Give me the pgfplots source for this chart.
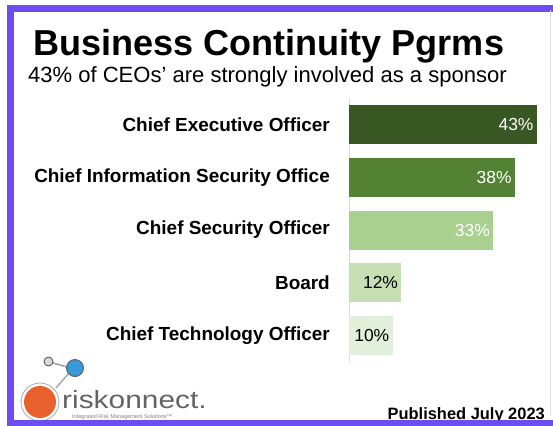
\documentclass[border=0pt]{standalone}
\usepackage{pgfplots}
\pgfplotsset{compat=1.18}
\usepackage{graphicx}
\usepackage{fontspec}
\setmainfont{Liberation Sans}
\definecolor{bdr}{RGB}{108,77,240}
\definecolor{cA}{RGB}{56,87,35}
\definecolor{cB}{RGB}{84,130,53}
\definecolor{cC}{RGB}{169,208,142}
\definecolor{cD}{RGB}{198,224,180}
\definecolor{cE}{RGB}{226,239,218}
\definecolor{lgOrange}{RGB}{232,97,44}
\definecolor{lgBlue}{RGB}{58,154,217}
\definecolor{lgGray}{RGB}{100,100,100}
\begin{document}
\begin{tikzpicture}[x=1bp,y=1bp]
\useasboundingbox (0,0) rectangle (553,425);
\fill[white] (0,0) rectangle (553,425);
\begin{axis}[
  at={(349bp,63.1bp)}, anchor=south west,
  scale only axis, width=188bp, height=263.75bp,
  xmin=0, xmax=43, ymin=-0.5, ymax=4.5, y dir=reverse,
  xbar, bar width=39bp, bar shift=0pt,
  axis x line=none, axis y line*=left,
  y axis line style={draw=gray!30, line width=0.8pt},
  ytick={0,1,2,3,4},
  yticklabels={Chief Executive Officer, Chief Information Security Office, Chief Security Officer, Board, Chief Technology Officer},
  major tick length=0pt,
  yticklabel style={font=\bfseries\fontsize{19}{21}\selectfont, inner sep=0pt, xshift=-19bp},
  /pgf/number format/assume math mode=true,
  nodes near coords={\pgfmathprintnumber{\pgfplotspointmeta}\%},
  every node near coord/.append style={anchor=east, font=\fontsize{17.5}{19}\selectfont},
  clip=false,
]
\addplot[fill=cA, draw=none, every node near coord/.append style={text=white}] coordinates {(43,0)};
\addplot[fill=cB, draw=none, every node near coord/.append style={text=white}] coordinates {(38,1)};
\addplot[fill=cC, draw=none, every node near coord/.append style={text=white}] coordinates {(33,2)};
\addplot[fill=cD, draw=none, every node near coord/.append style={text=black}] coordinates {(12,3)};
\addplot[fill=cE, draw=none, every node near coord/.append style={text=black}] coordinates {(10,4)};
\end{axis}
\node[anchor=base west, inner sep=0, font=\bfseries\fontsize{36.2}{40}\selectfont] at (33,370) {Business Continuity Pgrms};
\node[anchor=base west, inner sep=0, font=\fontsize{22.1}{24}\selectfont] at (28,343) {43\% of CEOs’ are strongly involved as a sponsor};
\node[anchor=base east, inner sep=0, font=\bfseries\fontsize{16.5}{18}\selectfont] at (545,6) {Published July 2023};
% logo
\draw[gray!70, line width=1.6] (53,62) -- (67,58);
\draw[gray!70, line width=1.4] (69,52) -- (56,37);
\draw[gray!60, line width=0.9] (40,23) circle (19);
\fill[lgOrange] (40,23) circle (16);
\draw[gray!70!black, line width=0.9, fill=lgBlue] (75,57) circle (8.5);
\draw[gray!70!black, line width=0.9, fill=green!10!gray!30] (48.5,63.5) circle (4.5);
\node[anchor=base west, inner sep=0, text=lgGray, font=\fontsize{25}{28}\selectfont] at (62,17) {\scalebox{1.2}[1]{riskonnect.}};
\node[anchor=base west, inner sep=0, text=gray, font=\fontsize{5.5}{6}\selectfont] at (72,7) {Integrated Risk Management Solutions™};
% border
\draw[bdr, line width=6.5] (553,416.5) -- (10.3,416.5) -- (10.3,1.5) -- (553,1.5);
\draw[gray!25, line width=0.6] (550,10) -- (550,415);
\end{tikzpicture}
\end{document}
